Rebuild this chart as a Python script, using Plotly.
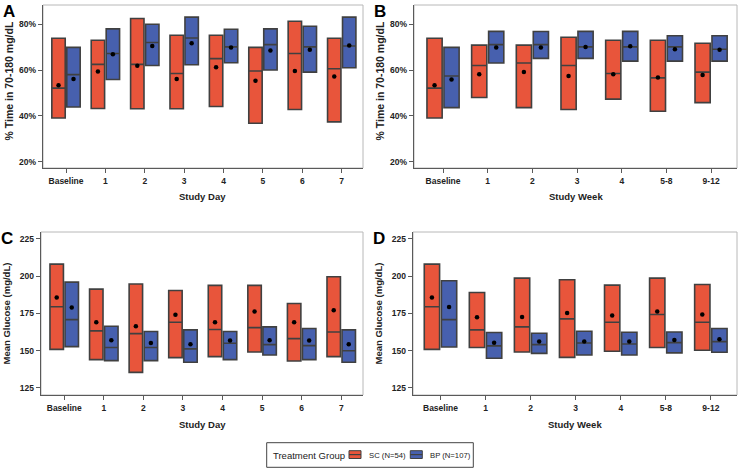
import plotly.graph_objects as go

# ---------------- data ----------------
cats_day = ["Baseline", "1", "2", "3", "4", "5", "6", "7"]
cats_week = ["Baseline", "1", "2", "3", "4", "5-8", "9-12"]
group_names = ["SC (N=54)", "BP (N=107)"]
legend_title = "Treatment Group"

# Panel A: % time in range by study day
a_sc_q1 = [39.1, 43.2, 43.1, 43.1, 44.1, 36.8, 42.8, 37.4]
a_sc_med = [52.1, 62.5, 62.5, 58.5, 65.0, 59.6, 67.2, 60.6]
a_sc_q3 = [73.9, 73.0, 82.5, 75.2, 75.2, 69.9, 81.3, 73.9]
a_sc_mean = [53.4, 59.4, 61.9, 56.1, 61.2, 55.3, 59.6, 57.2]
a_bp_q1 = [43.9, 55.9, 62.0, 62.3, 63.2, 60.0, 59.1, 61.0]
a_bp_med = [58.0, 67.2, 72.0, 74.0, 70.1, 71.1, 70.1, 70.5]
a_bp_q3 = [69.9, 78.0, 80.0, 83.1, 77.8, 78.0, 79.1, 83.1]
a_bp_mean = [56.1, 66.9, 70.5, 71.7, 69.8, 68.5, 68.9, 70.7]

# Panel B: % time in range by study week
b_sc_q1 = [39.1, 48.0, 43.6, 42.8, 47.3, 42.0, 45.8]
b_sc_med = [52.1, 62.0, 63.1, 62.0, 58.5, 56.6, 59.1]
b_sc_q3 = [73.9, 70.9, 70.9, 74.3, 73.0, 73.0, 71.7]
b_sc_mean = [53.4, 58.2, 59.1, 57.4, 58.2, 56.8, 57.8]
b_bp_q1 = [43.6, 63.1, 65.1, 65.1, 63.9, 63.9, 63.9]
b_bp_med = [57.4, 71.1, 71.1, 70.1, 70.1, 70.1, 69.1]
b_bp_q3 = [69.9, 76.9, 76.8, 76.9, 76.9, 75.0, 75.0]
b_bp_mean = [55.9, 69.9, 69.9, 70.1, 70.4, 69.1, 68.9]

# Panel C: mean glucose by study day
c_sc_q1 = [150.8, 143.9, 135.3, 145.2, 145.9, 149.0, 143.0, 145.9]
c_sc_med = [179.4, 163.2, 161.4, 169.0, 164.1, 165.4, 158.0, 162.5]
c_sc_q3 = [208.1, 191.3, 194.7, 190.4, 193.8, 193.8, 181.6, 199.6]
c_sc_mean = [185.7, 169.0, 166.3, 174.0, 169.0, 176.2, 169.0, 177.1]
c_bp_q1 = [152.6, 143.2, 143.2, 142.1, 143.9, 147.0, 143.9, 142.1]
c_bp_med = [170.8, 152.0, 152.0, 151.1, 154.9, 154.0, 153.3, 149.9]
c_bp_q3 = [196.0, 166.3, 162.8, 163.9, 162.8, 165.9, 164.8, 163.9]
c_bp_mean = [178.9, 156.9, 155.1, 154.2, 156.7, 156.9, 156.7, 154.2]

# Panel D: mean glucose by study week
d_sc_q1 = [150.8, 152.0, 149.0, 145.4, 149.5, 152.0, 150.2]
d_sc_med = [179.4, 163.9, 165.9, 171.3, 169.0, 174.2, 169.0]
d_sc_q3 = [208.1, 189.0, 198.7, 197.6, 194.0, 198.7, 194.4]
d_sc_mean = [185.7, 172.4, 172.6, 175.3, 173.5, 176.2, 174.2]
d_bp_q1 = [152.4, 144.8, 148.1, 147.0, 147.0, 148.4, 148.8]
d_bp_med = [170.8, 153.1, 154.0, 155.1, 154.4, 155.3, 156.0]
d_bp_q3 = [196.9, 162.1, 161.6, 163.0, 162.3, 162.5, 164.8]
d_bp_mean = [179.2, 155.3, 156.0, 156.0, 156.0, 157.1, 157.6]

# ---------------- style ----------------
W, H = 740, 469
FONT = "Liberation Sans, Arial, Helvetica, sans-serif"
SC_COLOR = "#E8553B"
BP_COLOR = "#4760AE"
EDGE = "#404040"
OFFSET = 0.19
BOXW = 0.34


def px(v):
    return v / W


def py(v):
    return 1 - v / H


panels = [
    dict(ax="", cats=cats_day, sc=(a_sc_q1, a_sc_med, a_sc_q3, a_sc_mean),
         bp=(a_bp_q1, a_bp_med, a_bp_q3, a_bp_mean),
         xdom=[px(43), px(363)], ydom=[py(168), py(5)],
         xr=[-0.584, 7.54], yr=[17.25, 88.4], pct=True,
         letter="A", ytitle="% Time in 70-180 mg/dL", xtitle="Study Day"),
    dict(ax="2", cats=cats_week, sc=(b_sc_q1, b_sc_med, b_sc_q3, b_sc_mean),
         bp=(b_bp_q1, b_bp_med, b_bp_q3, b_bp_mean),
         xdom=[px(414), px(737)], ydom=[py(168), py(5)],
         xr=[-0.65, 6.58], yr=[17.25, 88.4], pct=True,
         letter="B", ytitle="% Time in 70-180 mg/dL", xtitle="Study Week"),
    dict(ax="3", cats=cats_day, sc=(c_sc_q1, c_sc_med, c_sc_q3, c_sc_mean),
         bp=(c_bp_q1, c_bp_med, c_bp_q3, c_bp_mean),
         xdom=[px(41), px(363)], ydom=[py(395), py(232)],
         xr=[-0.587, 7.55], yr=[120.1, 229.7], pct=False,
         letter="C", ytitle="Mean Glucose (mg/dL)", xtitle="Study Day"),
    dict(ax="4", cats=cats_week, sc=(d_sc_q1, d_sc_med, d_sc_q3, d_sc_mean),
         bp=(d_bp_q1, d_bp_med, d_bp_q3, d_bp_mean),
         xdom=[px(413), px(737)], ydom=[py(395), py(232)],
         xr=[-0.61, 6.58], yr=[120.1, 229.7], pct=False,
         letter="D", ytitle="Mean Glucose (mg/dL)", xtitle="Study Week"),
]

fig = go.Figure()
layout = {}
annotations = []
shapes = []

for pi, p in enumerate(panels):
    xa, ya = "x" + p["ax"], "y" + p["ax"]
    idx = list(range(len(p["cats"])))
    for gi, (stats, color, sign) in enumerate(((p["sc"], SC_COLOR, -1), (p["bp"], BP_COLOR, 1))):
        q1, med, q3, mean = stats
        xs = [i + sign * OFFSET for i in idx]
        fig.add_trace(go.Box(
            x=xs, q1=q1, median=med, q3=q3, lowerfence=q1, upperfence=q3,
            width=BOXW, fillcolor=color, line=dict(color=EDGE, width=1.6),
            whiskerwidth=0, boxpoints=False, name=group_names[gi],
            showlegend=False, xaxis=xa, yaxis=ya, hoverinfo="skip"))
        fig.add_trace(go.Scatter(
            x=xs, y=mean, mode="markers",
            marker=dict(color="black", size=4.5), showlegend=False,
            xaxis=xa, yaxis=ya, hoverinfo="skip"))

    axis_common = dict(showgrid=False, zeroline=False, showline=True,
                       linecolor="#5a5a5a", linewidth=1.3, ticks="outside",
                       ticklen=4, tickcolor="#5a5a5a", tickwidth=1,
                       automargin=False,
                       tickfont=dict(family=FONT, size=8.5, color="#222", weight="bold"))
    xkey = "xaxis" + p["ax"]
    ykey = "yaxis" + p["ax"]
    layout[xkey] = dict(axis_common, domain=p["xdom"], range=p["xr"], anchor=ya,
                        tickmode="array", tickvals=idx, ticktext=p["cats"])
    if p["pct"]:
        yt = dict(tickvals=[20, 40, 60, 80], ticktext=["20%", "40%", "60%", "80%"])
    else:
        yt = dict(tickvals=[125, 150, 175, 200, 225], ticktext=["125", "150", "175", "200", "225"])
    layout[ykey] = dict(axis_common, domain=p["ydom"], range=p["yr"], anchor=xa,
                        tickmode="array", **yt)

    # light frame on top/right
    shapes.append(dict(type="rect", xref=xa + " domain", yref=ya + " domain",
                       x0=0, x1=1, y0=0, y1=1, line=dict(color="#b8b8b8", width=1),
                       layer="below"))

    xmid = (p["xdom"][0] + p["xdom"][1]) / 2
    ymid = (p["ydom"][0] + p["ydom"][1]) / 2
    ysize = 10.5 if p["pct"] else 9.5
    annotations.append(dict(text=p["xtitle"], xref="paper", yref="paper",
                            x=xmid, y=p["ydom"][0] - 29 / H, xanchor="center", yanchor="middle",
                            showarrow=False,
                            font=dict(family=FONT, size=9.5, color="#222", weight="bold")))
    annotations.append(dict(text=p["ytitle"], xref="paper", yref="paper",
                            x=p["xdom"][0] - 35 / W, y=ymid + (5 / H if p["pct"] else 0),
                            xanchor="center", yanchor="middle", textangle=-90,
                            showarrow=False,
                            font=dict(family=FONT, size=ysize, color="#222", weight="bold")))
    annotations.append(dict(text=p["letter"], xref="paper", yref="paper",
                            x=p["xdom"][0] - 34 / W, y=p["ydom"][1] - 6 / H,
                            xanchor="center", yanchor="middle", showarrow=False,
                            font=dict(family=FONT, size=17, color="black", weight="bold")))

# ---------------- legend (drawn as a framed key) ----------------
shapes.append(dict(type="rect", xref="paper", yref="paper",
                   x0=px(266.7), x1=px(473.3), y0=py(467.3), y1=py(442.7),
                   line=dict(color="#444", width=1), fillcolor="white"))
annotations.append(dict(text=legend_title, xref="paper", yref="paper",
                        x=px(271), y=py(455), xanchor="left", yanchor="middle",
                        showarrow=False, font=dict(family=FONT, size=9.5, color="#222")))
key_x = [349.0, 410.3]
for gi, color in enumerate((SC_COLOR, BP_COLOR)):
    x0 = key_x[gi]
    shapes.append(dict(type="rect", xref="paper", yref="paper",
                       x0=px(x0), x1=px(x0 + 12), y0=py(458.5), y1=py(450.7),
                       line=dict(color=EDGE, width=1), fillcolor=color))
    shapes.append(dict(type="line", xref="paper", yref="paper",
                       x0=px(x0), x1=px(x0 + 12), y0=py(454.6), y1=py(454.6),
                       line=dict(color=EDGE, width=1.2)))
    annotations.append(dict(text=group_names[gi], xref="paper", yref="paper",
                            x=px(x0 + 17.5), y=py(455), xanchor="left", yanchor="middle",
                            showarrow=False, font=dict(family=FONT, size=7.7, color="#222")))

fig.update_layout(
    width=W, height=H,
    margin=dict(l=0, r=0, t=0, b=0),
    paper_bgcolor="white", plot_bgcolor="white",
    boxmode="overlay",
    showlegend=False,
    hovermode=False,
    annotations=annotations,
    shapes=shapes,
    **layout,
)

fig.write_html("out.html", config={"displayModeBar": False, "staticPlot": True},
               post_script="document.body.style.margin='0';")
